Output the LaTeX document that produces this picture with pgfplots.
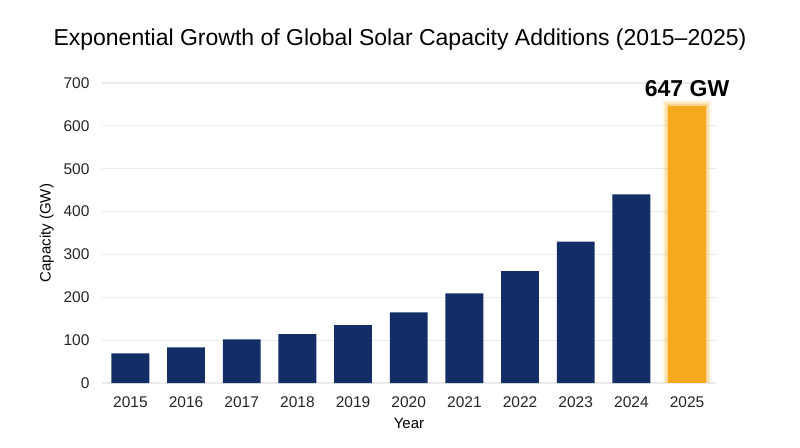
\documentclass[border=0pt]{standalone}
\usepackage{pgfplots}
\pgfplotsset{compat=1.18}
\usepackage{fontspec}
\setmainfont{Liberation Sans}
\definecolor{navy}{HTML}{132E66}
\definecolor{sun}{HTML}{F5A91C}
\definecolor{gridc}{HTML}{EBEBEB}
\begin{document}
\begin{tikzpicture}[x=1pt,y=1pt]
\useasboundingbox (-102,-64) rectangle (698,383);
\begin{axis}[
  at={(0,0)}, anchor=south west,
  scale only axis, width=614pt, height=300pt,
  xmin=-0.51, xmax=10.52, ymin=0, ymax=700,
  ytick={0,100,...,700},
  xtick={0,...,10},
  xticklabels={2015,2016,2017,2018,2019,2020,2021,2022,2023,2024,2025},
  axis line style={draw=none},
  major tick length=0pt,
  ymajorgrids, grid style={gridc, line width=1.2pt},
  /pgf/number format/assume math mode=true,
  ticklabel style={font=\fontsize{15.5}{18}\selectfont, text=black!85},
  xticklabel style={yshift=-10pt},
  yticklabel style={xshift=-9pt},
  ylabel={Capacity (GW)}, ylabel style={font=\fontsize{15}{17}\selectfont, yshift=3pt},
  xlabel={Year}, xlabel style={font=\fontsize{15}{17}\selectfont, yshift=-4pt},
  ybar, bar shift=0pt,
  clip=false,
]
\addplot[fill=sun, draw=none, opacity=0.08, bar width=0.90] coordinates {(10,661)};
\addplot[fill=sun, draw=none, opacity=0.12, bar width=0.84] coordinates {(10,657)};
\addplot[fill=sun, draw=none, opacity=0.18, bar width=0.78] coordinates {(10,653)};
\addplot[fill=sun, draw=none, opacity=0.25, bar width=0.73] coordinates {(10,650)};
\addplot[fill=navy, draw=none, bar width=0.68] coordinates {
(0,69) (1,83) (2,102) (3,114) (4,135) (5,165) (6,209) (7,261) (8,330) (9,440)};
\addplot[fill=sun, draw=none, bar width=0.68] coordinates {(10,647)};
\node[font=\bfseries\fontsize{23}{26}\selectfont, anchor=south] at (axis cs:10,660) {647 GW};
\end{axis}
\node[font=\fontsize{23}{27}\selectfont] at (298,343) {Exponential Growth of Global Solar Capacity Additions (2015–2025)};
\end{tikzpicture}
\end{document}
